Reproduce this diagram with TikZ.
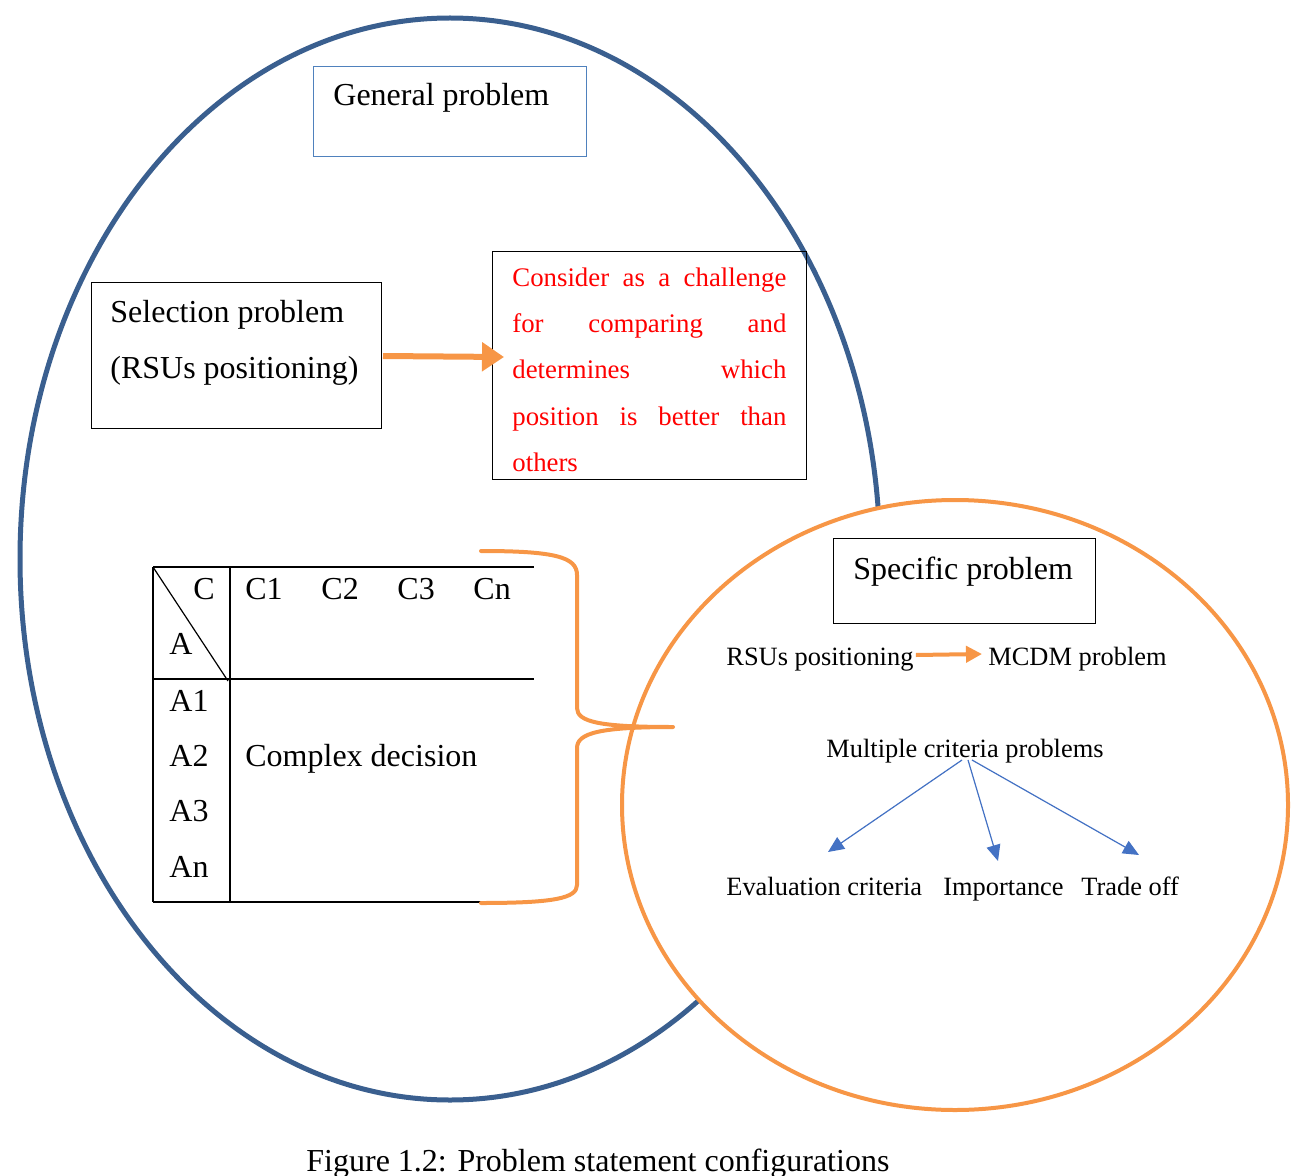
\documentclass[tikz,border=0pt]{standalone}
\usepackage{fontspec}
\setmainfont{Liberation Serif}
\usetikzlibrary{arrows.meta}
\definecolor{ellblue}{HTML}{3A5F8F}
\definecolor{boxblue}{HTML}{4F81BD}
\definecolor{arrblue}{HTML}{4472C4}
\definecolor{orng}{HTML}{F79646}
\definecolor{redtxt}{HTML}{FF0000}
\newcommand{\bigf}{\fontsize{16}{19}\selectfont}
\newcommand{\smallf}{\fontsize{13.2}{16}\selectfont}
\newcommand{\redf}{\fontsize{13.4}{16}\selectfont}
\tikzset{
  lbl/.style={anchor=base west, inner sep=0pt, font=\bigf},
  slbl/.style={anchor=base west, inner sep=0pt, font=\smallf},
  rlbl/.style={anchor=base west, inner sep=0pt, font=\redf, text=redtxt},
  blackbox/.style={draw=black, line width=0.6pt, anchor=north west, inner sep=0pt},
  bluebox/.style={draw=boxblue, line width=0.6pt, anchor=north west, inner sep=0pt},
  bigarrow/.style={draw=orng, line width=3pt, -{Triangle[length=11pt,width=14pt]}, fill=orng},
  smallarrow/.style={draw=orng, line width=2pt, -{Triangle[length=8pt,width=8pt]}, fill=orng},
  bluearrow/.style={draw=arrblue, line width=0.6pt, -{Triangle[length=8pt,width=7pt]}, fill=arrblue},
  tline/.style={draw=black, line width=0.6pt}
}
\begin{document}
\begin{tikzpicture}[x=0.5pt,y=-0.5pt]
\useasboundingbox (0,0) rectangle (1299,1176);
% big ellipse
\draw[ellblue, line width=2.5pt] (450,559) ellipse [x radius=215pt, y radius=270.5pt];
% general problem
\node[bluebox, minimum width=136.5pt, minimum height=45pt] (genbox) at (313,66) {};
\node[lbl] (gen) at (333,106) {General problem};
% selection problem
\node[blackbox, minimum width=145pt, minimum height=73pt] (selbox) at (91,282) {};
\node[lbl] (sel1) at (110,322) {Selection problem};
\node[lbl] (sel2) at (110,378) {(RSUs positioning)};
% red box
\node[blackbox, minimum width=157pt, minimum height=114pt] (redbox) at (492,251) {};
\node[rlbl] (r1) at (512,287) {\makebox[137pt][s]{Consider\hfill as\hfill a\hfill challenge}};
\node[rlbl] (r2) at (512,333) {\makebox[137pt][s]{for\hfill comparing\hfill and}};
\node[rlbl] (r3) at (512,379) {\makebox[137pt][s]{determines\hfill which}};
\node[rlbl] (r4) at (512,425) {\makebox[137pt][s]{position\hfill is\hfill better\hfill than}};
\node[rlbl] (r5) at (512,471) {others};
\coordinate (arrS) at (383,356);
\coordinate (arrE) at (504,357);
\draw[bigarrow] (arrS) -- (arrE);
% table
\coordinate (tTL) at (153,567);
\coordinate (tTR) at (534,567);
\coordinate (tML) at (153,679);
\coordinate (tMR) at (534,679);
\coordinate (tBL) at (153,902);
\coordinate (tBR) at (482,902);
\coordinate (tVT) at (230,567);
\coordinate (tVB) at (230,902);
\coordinate (tD) at (228,681);
\draw[tline] (tTL) -- (tTR);
\draw[tline] (tML) -- (tMR);
\draw[tline] (tBL) -- (tBR);
\draw[tline] (tTL) -- (tBL);
\draw[tline] (tVT) -- (tVB);
\draw[tline] (tTL) -- (tD);
\node[lbl] (hc) at (193,599) {C};
\node[lbl] (ha) at (169,654) {A};
\node[lbl] (c1) at (245,599) {C1};
\node[lbl] (c2) at (321,599) {C2};
\node[lbl] (c3) at (397,599) {C3};
\node[lbl] (cn) at (473,599) {Cn};
\node[lbl] (a1) at (169,711) {A1};
\node[lbl] (a2) at (169,766) {A2};
\node[lbl] (a3) at (169,821) {A3};
\node[lbl] (an) at (169,877) {An};
\node[lbl] (cd) at (245,766) {Complex decision};
% orange circle
\draw[orng, line width=2pt, fill=white] (955,805) ellipse [x radius=166.5pt, y radius=152.5pt];
% brace
\draw[orng, line width=2pt, line cap=round, line join=round]
  (481,551) .. controls (555,551) and (577,557) .. (577,575) -- (577,708)
  .. controls (577,722) and (600,727) .. (673,727)
  .. controls (600,727) and (577,733) .. (577,748) -- (577,885)
  .. controls (577,898) and (555,903) .. (481,903);
% specific problem
\node[blackbox, minimum width=131pt, minimum height=42.5pt] (specbox) at (833,538) {};
\node[lbl] (spec) at (853,579) {Specific problem};
\node[slbl] (rsu) at (726,665) {RSUs positioning};
\node[slbl] (mcdm) at (988,665) {MCDM problem};
\draw[smallarrow] ([xshift=1pt,yshift=-0.5pt]rsu.base east |- 0,654) -- ([xshift=-3pt]mcdm.base west |- 0,654);
\node[slbl] (mcp) at (826,757) {Multiple criteria problems};
\node[slbl] (ev) at (726,895) {Evaluation criteria};
\node[slbl] (imp) at (943,895) {Importance};
\node[slbl] (tro) at (1081,895) {Trade off};
\coordinate (m1) at (962,760);
\coordinate (m2) at (968,760);
\coordinate (m3) at (972,760);
\coordinate (e1) at (828,852);
\coordinate (e2) at (998,861);
\coordinate (e3) at (1139,855);
\draw[bluearrow] (m1) -- (e1);
\draw[bluearrow] (m2) -- (e2);
\draw[bluearrow] (m3) -- (e3);
% caption
\node[lbl] (cap) at (306,1171) {Figure 1.2: Problem statement configurations};
\end{tikzpicture}
\end{document}
